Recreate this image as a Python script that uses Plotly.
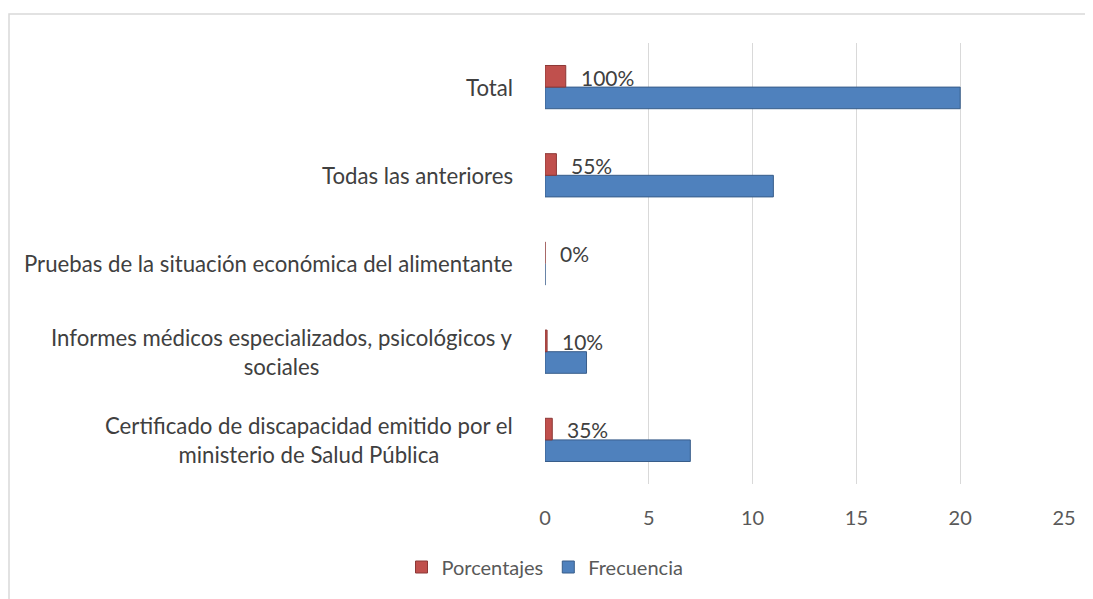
import plotly.graph_objects as go

categories = [
    "Certificado de discapacidad emitido por el<br>ministerio de Salud Pública",
    "Informes médicos especializados, psicológicos y<br>sociales",
    "Pruebas de la situación económica del alimentante",
    "Todas las anteriores",
    "Total",
]
frecuencia = [7, 2, 0, 11, 20]
porcentajes = [0.35, 0.10, 0.0, 0.55, 1.00]
pct_labels = ["35%", "10%", "0%", "55%", "100%"]
x_ticks = [0, 5, 10, 15, 20, 25]

FONT = "Lato"
TXT = "#404040"
TXT2 = "#595959"

# page body has an 8px margin; plot area in the page: x 545..1064, y 43..484
PX0, PX1, PY0, PY1 = 545, 1064, 43, 484
W, H = 1085, 591

fig = go.Figure()
fig.add_trace(go.Bar(
    y=categories, x=frecuencia, orientation="h", name="Frecuencia",
    marker=dict(color="#4f81bd", line=dict(color="#385d8a", width=1)),
    legendrank=2,
))
fig.add_trace(go.Bar(
    y=categories, x=porcentajes, orientation="h", name="Porcentajes",
    marker=dict(color="#c0504d", line=dict(color="#8c3836", width=1)),
    legendrank=1,
))

annotations = []
for cat, v, lab in zip(categories, porcentajes, pct_labels):
    annotations.append(dict(
        x=v, y=cat, xref="x", yref="y", text=lab, showarrow=False,
        xanchor="left", yanchor="middle", xshift=13, yshift=10,
        font=dict(family=FONT, size=21, color=TXT),
    ))
    annotations.append(dict(
        x=-30 / (PX1 - PX0), y=cat, xref="paper", yref="y", text=cat, showarrow=False,
        xanchor="right", yanchor="middle", align="center",
        font=dict(family=FONT, size=22.2, color=TXT),
    ))

def px_x(p):
    return (p - PX0) / (PX1 - PX0)

def px_y(p):
    return (PY1 - p) / (PY1 - PY0)

fig.update_layout(
    width=W, height=H,
    margin=dict(l=PX0 - 8, r=W - (PX1 - 8), t=PY0 - 8, b=H - (PY1 - 8)),
    paper_bgcolor="white", plot_bgcolor="white",
    barmode="group", bargap=0.51, bargroupgap=0.0,
    font=dict(family=FONT, size=20, color=TXT2),
    xaxis=dict(
        range=[0, 25], tickvals=x_ticks, showgrid=True, gridcolor="#d9d9d9",
        gridwidth=1, zeroline=False, showline=False, ticks="",
        tickfont=dict(family=FONT, size=20, color=TXT2), ticklabelstandoff=20,
    ),
    yaxis=dict(showticklabels=False, showgrid=False, zeroline=False, showline=False),
    showlegend=True,
    legend=dict(
        orientation="h", x=px_x(545), xanchor="center", y=px_y(567), yanchor="middle",
        font=dict(family=FONT, size=20, color=TXT2), itemwidth=30,
    ),
    annotations=annotations,
    shapes=[dict(
        type="rect", xref="paper", yref="paper",
        x0=px_x(9), x1=px_x(1110), y0=px_y(14), y1=px_y(620),
        line=dict(color="#d9d9d9", width=1.5), fillcolor="rgba(0,0,0,0)", layer="below",
    )],
)

fig.write_html("out.html")
